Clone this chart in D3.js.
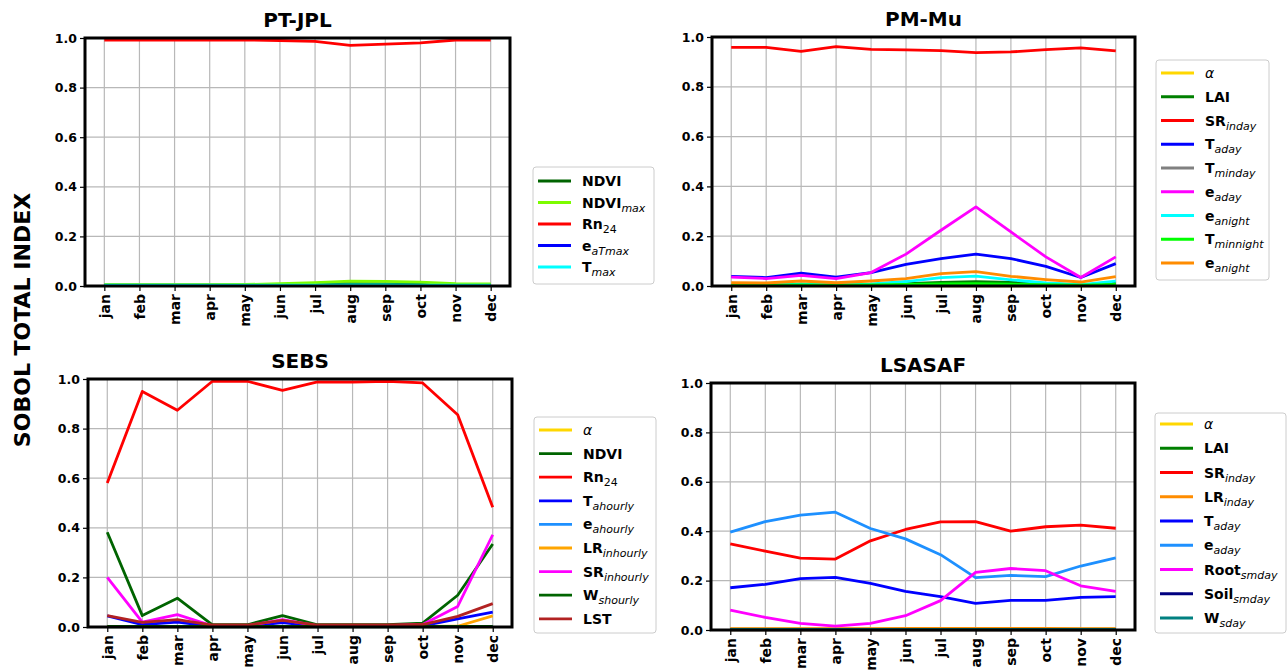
<!DOCTYPE html>
<html>
<head>
<meta charset="utf-8">
<script src="https://cdn.jsdelivr.net/npm/d3@7"></script>
<style>
  body { margin: 0; background: #fff; }
  text { font-family: "DejaVu Sans", sans-serif; }
</style>
</head>
<body>
<svg id="chart" width="1287" height="670"></svg>
<script>
const months = ["jan", "feb", "mar", "apr", "may", "jun", "jul", "aug", "sep", "oct", "nov", "dec"];
const yTicks = [0, 0.2, 0.4, 0.6, 0.8, 1.0];

// PT-JPL
const ptjplNames = ["NDVI", "NDVI_max", "Rn_24", "e_aTmax", "T_max"];
const ptjplColors = ["#006400", "#7cfc00", "#ff0000", "#0000ff", "#00ffff"];
const ptjplNdvi = [0.004, 0.004, 0.004, 0.004, 0.004, 0.005, 0.007, 0.009, 0.008, 0.007, 0.005, 0.005];
const ptjplNdviMax = [0.005, 0.005, 0.005, 0.005, 0.006, 0.009, 0.014, 0.02, 0.019, 0.016, 0.009, 0.008];
const ptjplRn24 = [0.992, 0.992, 0.992, 0.992, 0.992, 0.99, 0.986, 0.97, 0.975, 0.98, 0.992, 0.992];
const ptjplEaTmax = [0.002, 0.002, 0.002, 0.002, 0.002, 0.002, 0.002, 0.002, 0.002, 0.002, 0.002, 0.002];
const ptjplTmax = [0.003, 0.003, 0.003, 0.003, 0.003, 0.003, 0.003, 0.004, 0.004, 0.003, 0.003, 0.003];

// PM-Mu
const pmmuNames = ["α", "LAI", "SR_inday", "T_aday", "T_minday", "e_aday", "e_anight", "T_minnight", "e_anight"];
const pmmuColors = ["#ffd700", "#008000", "#ff0000", "#0000ff", "#808080", "#ff00ff", "#00ffff", "#00ff00", "#ff8c00"];
const pmmuAlpha = [0.001, 0.001, 0.001, 0.001, 0.001, 0.001, 0.001, 0.001, 0.001, 0.001, 0.001, 0.001];
const pmmuLai = [0.003, 0.003, 0.004, 0.003, 0.005, 0.009, 0.014, 0.017, 0.014, 0.009, 0.004, 0.011];
const pmmuSr = [0.958, 0.958, 0.942, 0.961, 0.95, 0.948, 0.945, 0.937, 0.94, 0.949, 0.956, 0.944];
const pmmuTaday = [0.039, 0.034, 0.052, 0.036, 0.054, 0.087, 0.11, 0.128, 0.11, 0.079, 0.034, 0.09];
const pmmuTminday = [0.002, 0.002, 0.002, 0.002, 0.002, 0.003, 0.004, 0.004, 0.003, 0.003, 0.002, 0.003];
const pmmuEaday = [0.036, 0.03, 0.043, 0.03, 0.054, 0.128, 0.224, 0.318, 0.217, 0.117, 0.034, 0.117];
const pmmuEanight = [0.005, 0.005, 0.008, 0.006, 0.008, 0.018, 0.034, 0.04, 0.025, 0.012, 0.005, 0.02];
const pmmuTminnight = [0.003, 0.003, 0.004, 0.003, 0.004, 0.006, 0.008, 0.009, 0.007, 0.005, 0.003, 0.006];
const pmmuEanight2 = [0.013, 0.012, 0.02, 0.013, 0.02, 0.03, 0.05, 0.058, 0.039, 0.026, 0.016, 0.038];

// SEBS
const sebsNames = ["α", "NDVI", "Rn_24", "T_ahourly", "e_ahourly", "LR_inhourly", "SR_inhourly", "W_shourly", "LST"];
const sebsColors = ["#ffd700", "#006400", "#ff0000", "#0000ff", "#1e90ff", "#ffa500", "#ff00ff", "#006400", "#b22222"];
const sebsAlpha = [0.001, 0.001, 0.001, 0.001, 0.001, 0.001, 0.001, 0.001, 0.001, 0.001, 0.001, 0.001];
const sebsNdvi = [0.382, 0.046, 0.116, 0.009, 0.009, 0.046, 0.009, 0.009, 0.009, 0.016, 0.128, 0.335];
const sebsRn24 = [0.581, 0.95, 0.874, 0.991, 0.991, 0.954, 0.988, 0.988, 0.991, 0.984, 0.856, 0.483];
const sebsTahourly = [0.045, 0.01, 0.02, 0.003, 0.003, 0.018, 0.003, 0.003, 0.003, 0.005, 0.033, 0.06];
const sebsEahourly = [0.001, 0.001, 0.001, 0.001, 0.001, 0.001, 0.001, 0.001, 0.001, 0.001, 0.001, 0.002];
const sebsLr = [0.002, 0.002, 0.002, 0.002, 0.002, 0.002, 0.002, 0.002, 0.002, 0.002, 0.003, 0.045];
const sebsSr = [0.2, 0.02, 0.05, 0.005, 0.005, 0.03, 0.005, 0.005, 0.005, 0.01, 0.083, 0.372];
const sebsWs = [0.002, 0.002, 0.002, 0.002, 0.002, 0.002, 0.002, 0.002, 0.002, 0.002, 0.002, 0.002];
const sebsLst = [0.046, 0.019, 0.03, 0.008, 0.008, 0.027, 0.008, 0.008, 0.008, 0.01, 0.043, 0.094];

// LSASAF
const lsaNames = ["α", "LAI", "SR_inday", "LR_inday", "T_aday", "e_aday", "Root_smday", "Soil_smday", "W_sday"];
const lsaColors = ["#ffd700", "#008000", "#ff0000", "#ff8c00", "#0000ff", "#1e90ff", "#ff00ff", "#000080", "#008080"];
const lsaAlpha = [0.001, 0.001, 0.001, 0.001, 0.001, 0.001, 0.001, 0.001, 0.001, 0.001, 0.001, 0.001];
const lsaLai = [0.003, 0.003, 0.003, 0.003, 0.003, 0.003, 0.003, 0.003, 0.003, 0.003, 0.003, 0.003];
const lsaSr = [0.349, 0.319, 0.291, 0.287, 0.361, 0.407, 0.438, 0.439, 0.4, 0.418, 0.425, 0.412];
const lsaLr = [0.005, 0.005, 0.005, 0.005, 0.005, 0.006, 0.006, 0.006, 0.006, 0.006, 0.005, 0.005];
const lsaTaday = [0.171, 0.185, 0.208, 0.213, 0.189, 0.156, 0.135, 0.108, 0.12, 0.12, 0.132, 0.135];
const lsaEaday = [0.396, 0.439, 0.465, 0.477, 0.411, 0.369, 0.305, 0.212, 0.221, 0.216, 0.259, 0.292];
const lsaRoot = [0.08, 0.051, 0.027, 0.016, 0.027, 0.058, 0.119, 0.233, 0.249, 0.24, 0.179, 0.156];
const lsaSoil = [0.001, 0.001, 0.001, 0.001, 0.001, 0.001, 0.001, 0.001, 0.001, 0.001, 0.001, 0.001];
const lsaWs = [0.002, 0.002, 0.002, 0.002, 0.002, 0.002, 0.002, 0.002, 0.002, 0.002, 0.002, 0.002];

const panels = [
  { title: "PT-JPL", left: 85, right: 510, top: 38, bottom: 286,
    names: ptjplNames, colors: ptjplColors,
    series: [ptjplNdvi, ptjplNdviMax, ptjplRn24, ptjplEaTmax, ptjplTmax],
    legend: { x: 533, y: 167, w: 121, h: 117, row0: 181, step: 21.5 } },
  { title: "PM-Mu", left: 712, right: 1135, top: 37, bottom: 286,
    names: pmmuNames, colors: pmmuColors,
    series: [pmmuAlpha, pmmuLai, pmmuSr, pmmuTaday, pmmuTminday, pmmuEaday, pmmuEanight, pmmuTminnight, pmmuEanight2],
    legend: { x: 1156, y: 60, w: 113, h: 220, row0: 73, step: 23.75 } },
  { title: "SEBS", left: 88, right: 512, top: 379, bottom: 627,
    names: sebsNames, colors: sebsColors,
    series: [sebsAlpha, sebsNdvi, sebsRn24, sebsTahourly, sebsEahourly, sebsLr, sebsSr, sebsWs, sebsLst],
    legend: { x: 534, y: 417, w: 122, h: 216, row0: 430, step: 23.6 } },
  { title: "LSASAF", left: 711, right: 1135, top: 383, bottom: 630,
    names: lsaNames, colors: lsaColors,
    series: [lsaAlpha, lsaLai, lsaSr, lsaLr, lsaTaday, lsaEaday, lsaRoot, lsaSoil, lsaWs],
    legend: { x: 1155, y: 413, w: 131, h: 220, row0: 424, step: 24.25 } }
];

const svg = d3.select("#chart");

function drawPanel(p) {
  const g = svg.append("g");
  const x = d3.scalePoint().domain(months).range([p.left, p.right]).padding(0.55);
  const y = d3.scaleLinear().domain([0, 1]).range([p.bottom, p.top]);

  // grid
  g.selectAll(".vgrid").data(months).join("line")
    .attr("x1", d => x(d)).attr("x2", d => x(d))
    .attr("y1", p.top).attr("y2", p.bottom)
    .attr("stroke", "#b8b8b8").attr("stroke-width", 1.2);
  g.selectAll(".hgrid").data(yTicks).join("line")
    .attr("x1", p.left).attr("x2", p.right)
    .attr("y1", d => y(d)).attr("y2", d => y(d))
    .attr("stroke", "#b8b8b8").attr("stroke-width", 1.2);

  // lines
  const line = d3.line().x((d, i) => x(months[i])).y(d => y(d));
  p.series.forEach((s, i) => {
    g.append("path").datum(s)
      .attr("d", line)
      .attr("fill", "none")
      .attr("stroke", p.colors[i])
      .attr("stroke-width", 2.8)
      .attr("stroke-linejoin", "round");
  });

  // axes
  const xAxis = g.append("g")
    .attr("transform", "translate(0," + p.bottom + ")")
    .call(d3.axisBottom(x).tickSize(5).tickSizeOuter(0));
  xAxis.select(".domain").remove();
  xAxis.selectAll("line").attr("stroke", "#000").attr("stroke-width", 1.2);
  xAxis.selectAll("text")
    .attr("transform", "rotate(-90)")
    .attr("text-anchor", "end")
    .attr("x", -8).attr("y", 0).attr("dy", "0.36em")
    .attr("font-size", 14).attr("font-weight", "bold")
    .attr("font-family", "DejaVu Sans").attr("fill", "#000");

  const yAxis = g.append("g")
    .attr("transform", "translate(" + p.left + ",0)")
    .call(d3.axisLeft(y).tickValues(yTicks).tickFormat(d3.format(".1f")).tickSize(5).tickSizeOuter(0));
  yAxis.select(".domain").remove();
  yAxis.selectAll("line").attr("stroke", "#000").attr("stroke-width", 1.2);
  yAxis.selectAll("text")
    .attr("x", -8)
    .attr("font-size", 12.5).attr("font-weight", "bold")
    .attr("font-family", "DejaVu Sans").attr("fill", "#000");

  // frame
  g.append("rect")
    .attr("x", p.left).attr("y", p.top)
    .attr("width", p.right - p.left).attr("height", p.bottom - p.top)
    .attr("fill", "none").attr("stroke", "#000").attr("stroke-width", 3);

  // title
  g.append("text")
    .attr("x", (p.left + p.right) / 2).attr("y", p.top - 11)
    .attr("text-anchor", "middle")
    .attr("font-size", 20).attr("font-weight", "bold")
    .text(p.title);

  // legend
  const L = p.legend;
  const lg = g.append("g");
  lg.append("rect")
    .attr("x", L.x).attr("y", L.y).attr("width", L.w).attr("height", L.h)
    .attr("rx", 3).attr("fill", "#fff").attr("stroke", "#cccccc").attr("stroke-width", 1);
  p.names.forEach((name, i) => {
    const ry = L.row0 + i * L.step;
    lg.append("line")
      .attr("x1", L.x + 5).attr("x2", L.x + 38)
      .attr("y1", ry).attr("y2", ry)
      .attr("stroke", p.colors[i]).attr("stroke-width", 2.8);
    const t = lg.append("text")
      .attr("x", L.x + 49).attr("y", ry + 5)
      .attr("font-size", 14).attr("fill", "#000");
    if (name === "α") {
      t.attr("font-style", "italic").attr("font-weight", "normal").text("α");
      return;
    }
    const parts = name.split("_");
    t.append("tspan").attr("font-weight", "bold").text(parts[0]);
    if (parts[1]) {
      const numeric = /^\d+$/.test(parts[1]);
      t.append("tspan")
        .attr("dy", 4)
        .attr("font-size", 11)
        .attr("font-style", numeric ? "normal" : "italic")
        .text(parts[1]);
    }
  });
}

panels.forEach(drawPanel);

svg.append("text")
  .attr("transform", "translate(22,320) rotate(-90)")
  .attr("text-anchor", "middle")
  .attr("dominant-baseline", "central")
  .attr("font-size", 22).attr("font-weight", "bold")
  .text("SOBOL TOTAL INDEX");
</script>
</body>
</html>
